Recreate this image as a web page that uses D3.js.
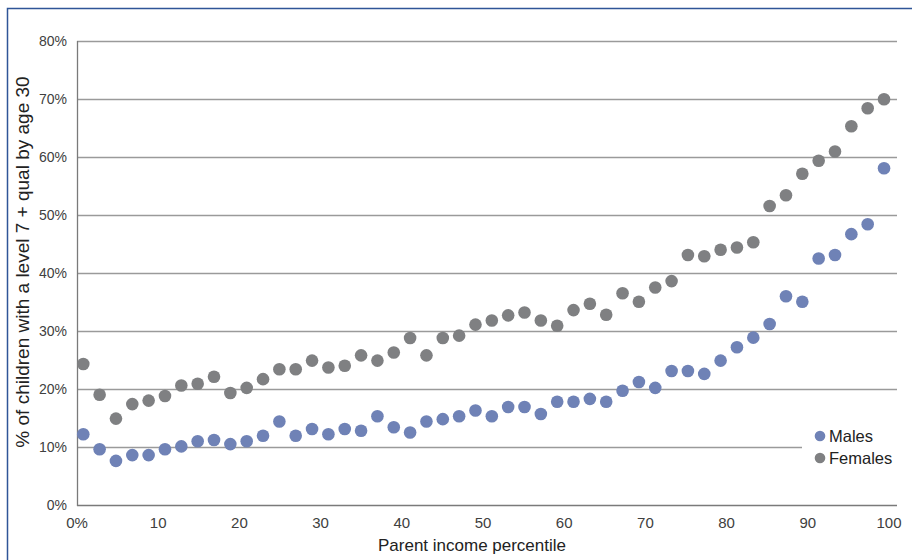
<!DOCTYPE html>
<html><head><meta charset="utf-8">
<script src="https://cdn.jsdelivr.net/npm/d3@7/dist/d3.min.js"></script>
<style>body{margin:0;background:#fff;}svg{display:block;}</style>
</head><body>
<svg id="c" width="912" height="560"></svg>
<script>
const percentiles = d3.range(1, 100, 2);
const males = [12.2,9.6,7.6,8.6,8.6,9.6,10.1,11.0,11.2,10.5,11.0,11.95,14.4,11.95,13.1,12.2,13.1,12.8,15.3,13.4,12.5,14.4,14.8,15.3,16.3,15.3,16.9,16.9,15.7,17.8,17.8,18.3,17.8,19.7,21.2,20.2,23.1,23.1,22.6,24.9,27.2,28.85,31.2,36.0,35.05,42.5,43.1,46.7,48.4,58.05];
const females = [24.3,19.0,14.9,17.4,18.0,18.8,20.6,20.9,22.1,19.3,20.2,21.7,23.4,23.4,24.9,23.7,24.0,25.8,24.9,26.3,28.8,25.8,28.8,29.2,31.1,31.8,32.7,33.2,31.8,30.9,33.6,34.7,32.8,36.5,35.05,37.5,38.6,43.1,42.9,44.0,44.4,45.3,51.55,53.4,57.1,59.35,60.95,65.3,68.4,69.95];
const yTicks = [0,10,20,30,40,50,60,70,80];
const xTicks = [0,10,20,30,40,50,60,70,80,90,100];
const seriesNames = ["Males","Females"];
const colors = {Males:"#6f82b6", Females:"#7f8082"};

const svg = d3.select("#c");
const x = d3.scaleLinear().domain([0,100]).range([77,889]);
const xp = d3.scaleLinear().domain([0,100]).range([75.1,892.2]);
const y = d3.scaleLinear().domain([0,80]).range([505,41]);
const narrow = "'Liberation Sans Narrow','Arial Narrow','Liberation Sans',sans-serif";
const sans = "'Liberation Sans',Arial,sans-serif";

// border
svg.append("path").attr("d","M7.5,600 L7.5,8.5 L912,8.5").attr("fill","none").attr("stroke","#2f5597").attr("stroke-width",1.5);

// gridlines
svg.append("g").selectAll("line").data(yTicks.filter(d=>d>0)).join("line")
  .attr("x1",x(0)).attr("x2",897).attr("y1",d=>Math.round(y(d))+0.5).attr("y2",d=>Math.round(y(d))+0.5)
  .attr("stroke","#9a9a9a").attr("stroke-width",1.3);
// baseline
svg.append("line").attr("x1",x(0)).attr("x2",897).attr("y1",505.5).attr("y2",505.5).attr("stroke","#7a7a7a").attr("stroke-width",1.3);
// y axis line
svg.append("line").attr("x1",77.5).attr("x2",77.5).attr("y1",41).attr("y2",506).attr("stroke","#7a7a7a").attr("stroke-width",1.3);

// y tick labels
svg.append("g").selectAll("text").data(yTicks).join("text")
  .attr("x",67).attr("y",d=>y(d)+5).attr("text-anchor","end")
  .attr("font-family",sans).attr("font-size",14).attr("fill","#404040")
  .text(d=>d+"%");
// x tick labels
svg.append("g").selectAll("text").data(xTicks).join("text")
  .attr("x",d=>x(d)).attr("y",528).attr("text-anchor","middle")
  .attr("font-family",narrow).attr("font-size",15).attr("fill","#404040")
  .text(d=>d===0?"0%":d);
// axis titles
svg.append("text").attr("x",472).attr("y",551).attr("text-anchor","middle")
  .attr("font-family",narrow).attr("font-size",17).attr("fill","#222").text("Parent income percentile");
svg.append("text").attr("transform","translate(29,262) rotate(-90)").attr("text-anchor","middle")
  .attr("font-family",sans).attr("font-size",19).attr("fill","#222").text("% of children with a level 7 + qual by age 30");

// points
const series = [{name:"Females",vals:females},{name:"Males",vals:males}];
series.forEach(s=>{
  svg.append("g").selectAll("circle").data(s.vals).join("circle")
    .attr("cx",(d,i)=>xp(percentiles[i])).attr("cy",d=>y(d)).attr("r",6.3)
    .attr("fill",colors[s.name]);
});

// legend
const lg = svg.append("g");
lg.append("rect").attr("x",802).attr("y",422).attr("width",96).attr("height",50).attr("fill","#fff");
seriesNames.forEach((n,i)=>{
  lg.append("circle").attr("cx",820).attr("cy",436+i*22).attr("r",5.3).attr("fill",colors[n]);
  lg.append("text").attr("x",829).attr("y",442+i*22).attr("font-family",sans).attr("font-size",16.5).attr("fill","#222").text(n);
});
</script>
</body></html>
